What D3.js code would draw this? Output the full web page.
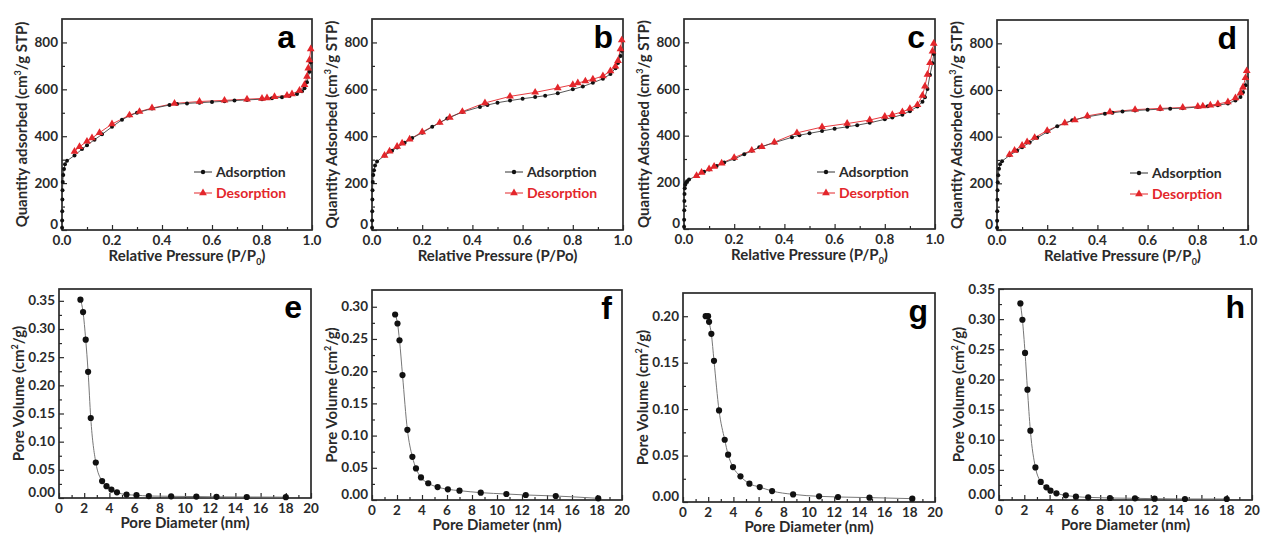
<!DOCTYPE html>
<html>
<head>
<meta charset="utf-8">
<script src="https://cdn.jsdelivr.net/npm/d3@7"></script>
<style>
  body { margin: 0; background: #fff; }
  svg text { font-family: Lato, "Open Sans", sans-serif; font-weight: 700; }
</style>
</head>
<body>
<svg width="1272" height="537"></svg>
<script>
// Isotherms: [relative pressure, quantity adsorbed]
const lowEnd = [[0.0003,10],[0.0006,40],[0.001,80],[0.0015,130],[0.002,170],[0.003,205],[0.005,235]];

const adsA = [...lowEnd,[0.008,260],[0.012,280],[0.02,295],[0.05,318],[0.08,345],[0.1,362],[0.13,385],[0.16,408],[0.2,440],[0.24,470],[0.27,488],[0.3,500],[0.36,518],[0.43,533],[0.46,537],[0.5,540],[0.55,543],[0.6,546],[0.65,549],[0.69,552],[0.74,555],[0.8,558],[0.84,562],[0.88,566],[0.91,572],[0.94,580],[0.96,592],[0.97,605],[0.98,630],[0.99,675],[0.995,715]];
const desA = [[0.995,772],[0.99,725],[0.985,690],[0.98,655],[0.97,620],[0.95,595],[0.92,580],[0.9,574],[0.85,568],[0.82,563],[0.8,561],[0.74,558],[0.65,553],[0.55,548],[0.45,540],[0.36,520],[0.31,505],[0.27,490],[0.2,452],[0.15,415],[0.12,392],[0.1,378],[0.07,355],[0.05,335]];

const adsB = [...lowEnd,[0.008,255],[0.012,275],[0.02,292],[0.05,318],[0.08,338],[0.1,352],[0.13,372],[0.16,392],[0.2,415],[0.24,440],[0.27,458],[0.3,476],[0.36,503],[0.43,525],[0.46,533],[0.5,543],[0.55,552],[0.6,560],[0.65,567],[0.69,573],[0.74,583],[0.8,600],[0.84,612],[0.88,628],[0.92,645],[0.95,665],[0.97,690],[0.98,712],[0.99,742],[0.995,765]];
const desB = [[0.995,810],[0.99,772],[0.98,722],[0.97,698],[0.95,678],[0.92,657],[0.88,643],[0.85,635],[0.82,627],[0.8,620],[0.74,606],[0.65,587],[0.55,570],[0.45,542],[0.36,505],[0.31,480],[0.27,458],[0.2,418],[0.15,387],[0.12,370],[0.1,356],[0.07,336],[0.05,318]];

const adsC = [[0.0003,10],[0.0006,40],[0.001,80],[0.0015,120],[0.002,150],[0.003,175],[0.005,190],[0.008,198],[0.012,205],[0.02,212],[0.05,228],[0.08,245],[0.1,255],[0.13,270],[0.16,285],[0.2,300],[0.24,320],[0.27,335],[0.3,350],[0.36,370],[0.43,393],[0.46,402],[0.5,410],[0.55,420],[0.6,430],[0.65,438],[0.69,445],[0.74,455],[0.8,470],[0.83,478],[0.87,490],[0.9,505],[0.93,525],[0.95,545],[0.96,565],[0.97,600],[0.98,660],[0.99,710],[0.995,750]];
const desC = [[0.995,795],[0.99,762],[0.98,712],[0.97,662],[0.96,612],[0.95,572],[0.93,532],[0.9,516],[0.87,502],[0.83,490],[0.8,482],[0.74,467],[0.65,452],[0.55,437],[0.45,412],[0.36,372],[0.31,352],[0.27,337],[0.2,306],[0.15,282],[0.12,268],[0.1,257],[0.07,242],[0.05,228]];

const adsD = [...lowEnd,[0.008,262],[0.012,282],[0.02,295],[0.05,320],[0.08,340],[0.1,355],[0.13,375],[0.16,395],[0.2,420],[0.24,445],[0.27,458],[0.3,470],[0.36,485],[0.43,498],[0.46,502],[0.5,508],[0.55,512],[0.6,515],[0.65,518],[0.69,520],[0.74,522],[0.8,527],[0.84,530],[0.88,535],[0.92,542],[0.95,555],[0.97,570],[0.98,590],[0.99,620],[0.995,650]];
const desD = [[0.995,682],[0.99,652],[0.98,612],[0.97,587],[0.95,566],[0.92,549],[0.88,540],[0.85,535],[0.82,531],[0.8,529],[0.74,525],[0.65,521],[0.55,516],[0.45,506],[0.36,489],[0.31,471],[0.27,459],[0.2,426],[0.15,396],[0.12,377],[0.1,362],[0.07,341],[0.05,323]];

// Pore size distributions: [pore diameter nm, pore volume]
const poreE = [[1.70,0.352],[1.91,0.330],[2.12,0.281],[2.31,0.224],[2.52,0.142],[2.92,0.063],[3.42,0.030],[3.77,0.021],[4.16,0.015],[4.6,0.010],[5.36,0.006],[6.15,0.005],[7.13,0.0035],[8.9,0.003],[10.9,0.0025],[12.5,0.002],[14.9,0.0018],[18.0,0.0015]];
const poreF = [[1.85,0.288],[2.04,0.274],[2.2,0.248],[2.44,0.194],[2.83,0.109],[3.23,0.067],[3.52,0.049],[3.92,0.035],[4.5,0.026],[5.25,0.020],[6.07,0.0166],[7.0,0.0145],[8.7,0.0114],[10.75,0.0093],[12.3,0.0078],[14.7,0.0062],[18.1,0.0026]];
const poreG = [[1.8,0.200],[1.99,0.200],[2.07,0.194],[2.25,0.181],[2.46,0.152],[2.86,0.0986],[3.31,0.067],[3.58,0.051],[3.97,0.0376],[4.56,0.0276],[5.27,0.0197],[6.09,0.0161],[7.07,0.0118],[8.74,0.0082],[10.8,0.0061],[12.3,0.0054],[14.8,0.0047],[18.2,0.0036]];
const poreH = [[1.69,0.326],[1.85,0.299],[2.06,0.244],[2.25,0.183],[2.48,0.115],[2.88,0.054],[3.3,0.030],[3.75,0.021],[4.07,0.0155],[4.54,0.011],[5.28,0.0078],[6.08,0.0055],[7.05,0.0044],[8.77,0.0033],[10.75,0.0028],[12.3,0.0022],[14.7,0.0017],[18.0,0.0017]];

const isoXTicks = [0, 0.2, 0.4, 0.6, 0.8, 1.0];
const isoYTicks = [0, 200, 400, 600, 800];
const poreXTicks = [0, 2, 4, 6, 8, 10, 12, 14, 16, 18, 20];
const poreYTicksE = [0, 0.05, 0.10, 0.15, 0.20, 0.25, 0.30, 0.35];
const poreYTicksF = [0, 0.05, 0.10, 0.15, 0.20, 0.25, 0.30];
const poreYTicksG = [0, 0.05, 0.10, 0.15, 0.20];
const legendLabels = ["Adsorption", "Desorption"];

const RED = "#e3262b";
const INK = "#2a2a2a";
const svg = d3.select("svg");

// frame geometry for each panel
const isoPanels = [
  {tag: "a", left: 62, right: 312, top: 19, bottom: 230, tagOff: 17, ads: adsA, des: desA, ylab: "Quantity adsorbed (cm", xsub: true},
  {tag: "b", left: 372, right: 623, top: 19, bottom: 230, tagOff: 10, ads: adsB, des: desB, ylab: "Quantity Adsorbed (cm", xsub: false},
  {tag: "c", left: 684, right: 935, top: 19, bottom: 229, tagOff: 10, ads: adsC, des: desC, ylab: "Quantity Adsorbed (cm", xsub: true},
  {tag: "d", left: 997, right: 1248, top: 20, bottom: 230, tagOff: 11, ads: adsD, des: desD, ylab: "Quantity Adsorbed (cm", xsub: true}
];
const porePanels = [
  {tag: "e", left: 59, right: 311, top: 289, bottom: 498, tagOff: 9, data: poreE, ymax: 0.371, yticks: poreYTicksE},
  {tag: "f", left: 372, right: 622, top: 290, bottom: 500, tagOff: 10, data: poreF, ymax: 0.326, yticks: poreYTicksF},
  {tag: "g", left: 683, right: 935, top: 293, bottom: 502, tagOff: 7, data: poreG, ymax: 0.225, yticks: poreYTicksG},
  {tag: "h", left: 999, right: 1252, top: 289, bottom: 500, tagOff: 7, data: poreH, ymax: 0.35, yticks: poreYTicksE}
];

function frame(g, p, x, y, xTicks, xMinor, yTicks, yMinor, xfmt, yfmt) {
  const h = p.bottom - p.top, w = p.right - p.left;
  // inward ticks, major and minor
  g.append("g").attr("transform", `translate(0,${h})`)
    .call(d3.axisTop(x).tickValues(xMinor).tickSize(3).tickFormat(""))
    .call(a => a.select(".domain").remove());
  g.append("g").attr("transform", `translate(0,${h})`)
    .call(d3.axisTop(x).tickValues(xTicks).tickSize(5).tickFormat(""))
    .call(a => a.select(".domain").remove());
  g.append("g")
    .call(d3.axisRight(y).tickValues(yMinor).tickSize(3).tickFormat(""))
    .call(a => a.select(".domain").remove());
  g.append("g")
    .call(d3.axisRight(y).tickValues(yTicks).tickSize(5).tickFormat(""))
    .call(a => a.select(".domain").remove());
  g.selectAll(".tick line").attr("stroke", INK).attr("stroke-width", 1.2);

  g.selectAll(".xl").data(xTicks).join("text")
    .attr("x", d => x(d)).attr("y", h + 14.5)
    .attr("text-anchor", "middle").attr("font-size", 13.5).attr("fill", INK)
    .text(xfmt);
  // the zero label sits just above the x labels, as in the original
  g.selectAll(".yl").data(yTicks).join("text")
    .attr("x", -4).attr("y", (d, i) => y(d) + (i === 0 ? -1 : 4.5))
    .attr("text-anchor", "end").attr("font-size", 13.5).attr("fill", INK)
    .text(yfmt);

  g.append("rect").attr("width", w).attr("height", h)
    .attr("fill", "none").attr("stroke", INK).attr("stroke-width", 1.7);
}

function tagLetter(g, p, w) {
  g.append("text").attr("x", w - p.tagOff).attr("y", 29).attr("text-anchor", "end")
    .attr("font-size", 32).attr("fill", "#000")
    .style("font-family", "'Liberation Sans', Arial, sans-serif").text(p.tag);
}

const triangle = d3.symbol().type(d3.symbolTriangle).size(26);

isoPanels.forEach(p => {
  const g = svg.append("g").attr("transform", `translate(${p.left},${p.top})`);
  const w = p.right - p.left, h = p.bottom - p.top;
  const x = d3.scaleLinear().domain([0, 1]).range([0, w]);
  const y = d3.scaleLinear().domain([0, 900]).range([h, 0]);

  frame(g, p, x, y, isoXTicks, d3.range(0.1, 1, 0.2), isoYTicks, [100, 300, 500, 700],
        d => d3.format(".1f")(d), d => d);

  const line = d3.line().x(d => x(d[0])).y(d => y(d[1]));
  g.append("path").datum(p.des).attr("d", line)
    .attr("fill", "none").attr("stroke", RED).attr("stroke-width", 0.9);
  g.append("path").datum(p.ads).attr("d", line)
    .attr("fill", "none").attr("stroke", "#444").attr("stroke-width", 0.9);

  g.selectAll(".ads").data(p.ads).join("circle")
    .attr("cx", d => x(d[0])).attr("cy", d => y(d[1])).attr("r", 2).attr("fill", "#111");
  g.selectAll(".des").data(p.des).join("path")
    .attr("d", triangle).attr("transform", d => `translate(${x(d[0])},${y(d[1])})`).attr("fill", RED);

  tagLetter(g, p, w);

  // legend
  const lx = w - 118, ly = 153;
  legendLabels.forEach((lab, i) => {
    const col = i === 0 ? "#333" : RED;
    const yy = ly + i * 21;
    g.append("line").attr("x1", lx).attr("x2", lx + 18).attr("y1", yy).attr("y2", yy)
      .attr("stroke", col).attr("stroke-width", 1);
    if (i === 0) g.append("circle").attr("cx", lx + 9).attr("cy", yy).attr("r", 2.2).attr("fill", "#111");
    else g.append("path").attr("d", triangle).attr("transform", `translate(${lx + 9},${yy})`).attr("fill", RED);
    g.append("text").attr("x", lx + 22).attr("y", yy + 5).attr("font-size", 14)
      .attr("fill", i === 0 ? INK : RED).text(lab);
  });

  // axis titles
  const xt = g.append("text").attr("x", w / 2).attr("y", h + 31).attr("text-anchor", "middle")
    .attr("font-size", 15).attr("fill", INK);
  if (p.xsub) {
    xt.append("tspan").text("Relative Pressure (P/P");
    xt.append("tspan").attr("font-size", 9).attr("dy", 4).text("0");
    xt.append("tspan").attr("dy", -4).text(")");
  } else {
    xt.text("Relative Pressure (P/Po)");
  }
  const yt = g.append("text").attr("transform", `translate(-40,${h / 2}) rotate(-90)`)
    .attr("text-anchor", "middle").attr("dy", "0.35em").attr("font-size", 15).attr("fill", INK);
  yt.append("tspan").text(p.ylab);
  yt.append("tspan").attr("font-size", 9).attr("dy", -6).text("3");
  yt.append("tspan").attr("dy", 6).text("/g STP)");
});

porePanels.forEach(p => {
  const g = svg.append("g").attr("transform", `translate(${p.left},${p.top})`);
  const w = p.right - p.left, h = p.bottom - p.top;
  const x = d3.scaleLinear().domain([0, 20]).range([0, w]);
  const y = d3.scaleLinear().domain([0, p.ymax]).range([h, 0]);

  const yMinor = p.yticks.slice(0, -1).map(v => v + 0.025);
  frame(g, p, x, y, poreXTicks, d3.range(1, 20, 2), p.yticks, yMinor,
        d => d, d => d3.format(".2f")(d));

  const line = d3.line().x(d => x(d[0])).y(d => y(d[1])).curve(d3.curveMonotoneX);
  g.append("path").datum(p.data).attr("d", line)
    .attr("fill", "none").attr("stroke", "#777").attr("stroke-width", 1);
  g.selectAll(".pt").data(p.data).join("circle")
    .attr("cx", d => x(d[0])).attr("cy", d => y(d[1])).attr("r", 3.1).attr("fill", "#111");

  tagLetter(g, p, w);

  g.append("text").attr("x", w / 2).attr("y", h + 30).attr("text-anchor", "middle")
    .attr("font-size", 15).attr("fill", INK).text("Pore Diameter (nm)");
  const yt = g.append("text").attr("transform", `translate(-40,${h / 2}) rotate(-90)`)
    .attr("text-anchor", "middle").attr("dy", "0.35em").attr("font-size", 15).attr("fill", INK);
  yt.append("tspan").text("Pore Volume (cm");
  yt.append("tspan").attr("font-size", 9).attr("dy", -6).text("2");
  yt.append("tspan").attr("dy", 6).text("/g)");
});
</script>
</body>
</html>
